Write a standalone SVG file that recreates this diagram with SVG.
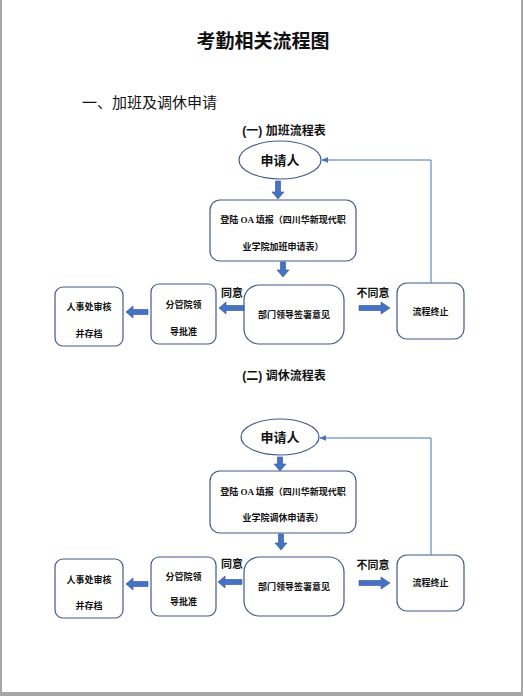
<svg xmlns="http://www.w3.org/2000/svg" width="523" height="696" viewBox="0 0 523 696">
<defs>
<style>
.bg{fill:#ffffff}
.edge{fill:#a6a6a6}
.box{fill:#ffffff;stroke:#41598b;stroke-width:1.2}
.t{font-family:"Liberation Serif","Noto Sans CJK SC",serif;font-weight:bold;fill:#111;text-anchor:middle}
.s{font-size:9px}
.h{font-family:"Liberation Sans","Noto Sans CJK SC",sans-serif;fill:#111}
.blk{fill:#4472c4;stroke:#2f528f;stroke-width:0.6}
.ln{fill:none;stroke:#4472c4;stroke-width:1}
</style>
<marker id="ah" viewBox="0 0 10 10" refX="9" refY="5" markerWidth="7" markerHeight="7" orient="auto">
<path d="M0,1 L10,5 L0,9 z" fill="#4472c4"/>
</marker>
</defs>
<rect class="bg" x="0" y="0" width="523" height="696"/>
<rect class="edge" x="0" y="0" width="2" height="696"/>
<rect class="edge" x="521" y="0" width="2" height="696"/>
<rect class="edge" x="0" y="692" width="523" height="4"/>

<text class="t" x="263" y="48" font-size="19">考勤相关流程图</text>
<text class="h" x="82" y="108" font-size="15">一、加班及调休申请</text>
<text class="h" x="284" y="135" font-size="12" font-weight="bold" text-anchor="middle">(一) 加班流程表</text>
<text class="h" x="284" y="380" font-size="12" font-weight="bold" text-anchor="middle">(二) 调休流程表</text>

<!-- Section 1 -->
<g id="n1-applicant"><ellipse class="box" cx="280" cy="160" rx="41" ry="19"/><text class="t" x="280" y="165" font-size="13">申请人</text></g>
<g id="n1-oa"><rect class="box" x="210" y="200" width="146" height="61" rx="10"/><text class="t s" x="283" y="223">登陆 OA 填报（四川华新现代职</text><text class="t s" x="283" y="250">业学院加班申请表）</text></g>
<g id="n1-dept"><rect class="box" x="244" y="285" width="100" height="59" rx="15"/><text class="t s" x="294" y="318">部门领导签署意见</text></g>
<g id="n1-end"><rect class="box" x="397" y="283" width="67" height="56" rx="10"/><text class="t s" x="430.5" y="315">流程终止</text></g>
<g id="n1-vp"><rect class="box" x="151" y="284" width="65" height="60" rx="8"/><text class="t s" x="183.5" y="308">分管院领</text><text class="t s" x="183.5" y="335">导批准</text></g>
<g id="n1-hr"><rect class="box" x="55" y="287" width="68" height="59" rx="8"/><text class="t s" x="89" y="310">人事处审核</text><text class="t s" x="89" y="337">并存档</text></g>

<!-- Section 2 -->
<g id="n2-applicant"><ellipse class="box" cx="280" cy="437" rx="39" ry="18"/><text class="t" x="280" y="442" font-size="13">申请人</text></g>
<g id="n2-oa"><rect class="box" x="210" y="471" width="146" height="62" rx="10"/><text class="t s" x="283" y="495">登陆 OA 填报（四川华新现代职</text><text class="t s" x="283" y="521">业学院调休申请表）</text></g>
<g id="n2-dept"><rect class="box" x="244" y="557" width="100" height="59" rx="15"/><text class="t s" x="294" y="590">部门领导签署意见</text></g>
<g id="n2-end"><rect class="box" x="397" y="555" width="67" height="56" rx="10"/><text class="t s" x="430.5" y="586">流程终止</text></g>
<g id="n2-vp"><rect class="box" x="151" y="557" width="65" height="59" rx="8"/><text class="t s" x="183.5" y="580">分管院领</text><text class="t s" x="183.5" y="605">导批准</text></g>
<g id="n2-hr"><rect class="box" x="55" y="559" width="68" height="59" rx="8"/><text class="t s" x="89" y="583">人事处审核</text><text class="t s" x="89" y="609">并存档</text></g>

<g id="connectors">
<!-- section 1 -->
<path class="blk" d="M275.5,181 h5 v11 h3.5 l-6,7 l-6,-7 h3.5 z"/>
<path class="blk" d="M280.5,262 h5 v8 h3.5 l-6,7 l-6,-7 h3.5 z"/>
<path class="blk" d="M244,305.5 v5 h-18 v3.5 l-7,-6 l7,-6 v3.5 z"/>
<path class="blk" d="M148,309.5 v5 h-15 v3.5 l-7,-6 l7,-6 v3.5 z"/>
<path class="blk" d="M359,305.5 h22 v-3.5 l9,6 l-9,6 v-3.5 h-22 z"/>
<path class="ln" d="M431,283 V160 H322" marker-end="url(#ah)"/>
<text class="t" x="232" y="297" font-size="11">同意</text>
<text class="t" x="373" y="297" font-size="11">不同意</text>
<!-- section 2 -->
<path class="blk" d="M277.5,457 h5 v7 h3.5 l-6,7 l-6,-7 h3.5 z"/>
<path class="blk" d="M278.5,534 h5 v9 h3.5 l-6,7 l-6,-7 h3.5 z"/>
<path class="blk" d="M242,579.5 v5 h-17 v3.5 l-7,-6 l7,-6 v3.5 z"/>
<path class="blk" d="M148,581.5 v5 h-15 v3.5 l-7,-6 l7,-6 v3.5 z"/>
<path class="blk" d="M359,580.5 h22 v-3.5 l9,6 l-9,6 v-3.5 h-22 z"/>
<path class="ln" d="M431,555 V438 H320" marker-end="url(#ah)"/>
<text class="t" x="232" y="568" font-size="11">同意</text>
<text class="t" x="373" y="569" font-size="11">不同意</text>
</g>
</svg>
